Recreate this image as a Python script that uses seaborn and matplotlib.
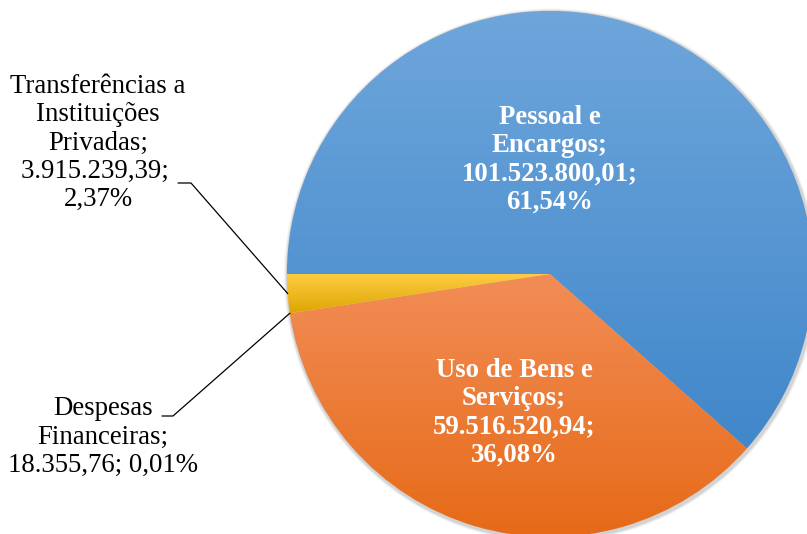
import numpy as np
import matplotlib
matplotlib.use("Agg")
import matplotlib.pyplot as plt
import seaborn as sns
from matplotlib.colors import LinearSegmentedColormap

# data (despesas por grupo)
categorias = ["Pessoal e\nEncargos", "Uso de Bens e\nServiços",
              "Despesas\nFinanceiras", "Transferências a\nInstituições\nPrivadas"]
valores = [101523800.01, 59516520.94, 18355.76, 3915239.39]
valores_txt = ["101.523.800,01", "59.516.520,94", "18.355,76", "3.915.239,39"]
percentuais = ["61,54%", "36,08%", "0,01%", "2,37%"]

# gradient colours per slice (top, bottom)
cores = [("#6EA6DB", "#4187CA"), ("#F28D57", "#E66A17"),
         ("#FFC000", "#FFC000"), ("#FFCD45", "#DDA600")]

sns.set_style("white")
plt.rcParams['font.family'] = ['Liberation Serif', 'DejaVu Serif']

W, H = 807, 534
fig = plt.figure(figsize=(W / 100, H / 100), dpi=100)
ax = fig.add_axes([0, 0, 1, 1])

cx, cy, r = 550, 260, 263

# soft shadow
for k, a in [(4, 0.04), (3, 0.06), (2, 0.08)]:
    ax.add_patch(plt.Circle((cx + 1, cy - 1.5), r + k, color="black",
                            alpha=a, lw=0, zorder=0))

wedges, _ = ax.pie(valores, center=(cx, cy), radius=r, startangle=180,
                   counterclock=False, colors=[c[0] for c in cores],
                   wedgeprops={"linewidth": 0.4, "edgecolor": "#c8c8c8"})

for w, (c_top, c_bot) in zip(wedges, cores):
    ext = w.get_path().get_extents()
    cmap = LinearSegmentedColormap.from_list("g", [c_bot, c_top])
    grad = np.linspace(0, 1, 256).reshape(-1, 1)
    im = ax.imshow(grad, cmap=cmap, origin="lower", aspect="auto",
                   extent=(ext.x0, ext.x1, ext.y0, ext.y1), zorder=1)
    im.set_clip_path(w)

ax.set_xlim(0, W)
ax.set_ylim(0, H)
ax.set_aspect("auto")
ax.axis("off")

fs = 19.3
ls = 1.18
# labels inside
ax.text(550, 374, f"{categorias[0]};\n{valores_txt[0]};\n{percentuais[0]}",
        ha="center", va="center", color="white", fontsize=fs,
        fontweight="bold", linespacing=ls, zorder=3)
ax.text(514, 121, f"{categorias[1]};\n{valores_txt[1]};\n{percentuais[1]}",
        ha="center", va="center", color="white", fontsize=fs,
        fontweight="bold", linespacing=ls, zorder=3)

# labels outside with leader lines
ax.text(98, 391, f"{categorias[3]};\n{valores_txt[3]}; \n{percentuais[3]}",
        ha="center", va="center", color="black", fontsize=fs,
        linespacing=ls, zorder=3)
ax.text(103, 97, f"{categorias[2]};\n{valores_txt[2]}; {percentuais[2]}",
        ha="center", va="center", color="black", fontsize=fs,
        linespacing=ls, zorder=3)

def ponto_borda(w):
    ang = np.deg2rad((w.theta1 + w.theta2) / 2)
    return cx + r * np.cos(ang), cy + r * np.sin(ang)

px, py = ponto_borda(wedges[3])
ax.plot([178, 191, px], [351, 351, py], color="black", lw=0.9, zorder=3)
px, py = ponto_borda(wedges[2])
ax.plot([162, 173, px], [118, 118, py], color="black", lw=0.9, zorder=3)

fig.savefig("out.png", dpi=100)
